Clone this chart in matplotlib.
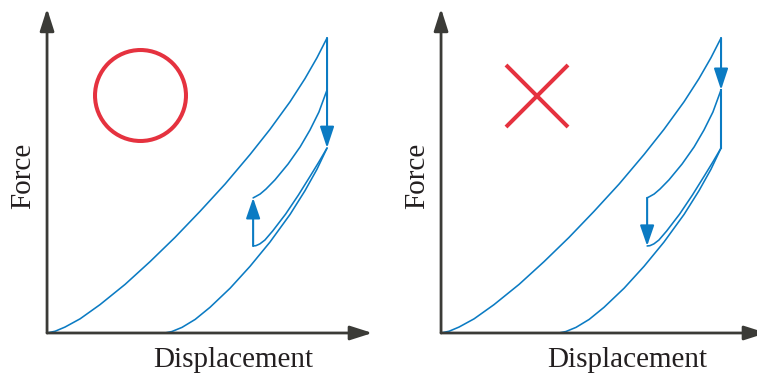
import matplotlib
matplotlib.use("Agg")
import matplotlib.pyplot as plt

# ── Curve data (displacement, force), normalised so the peak load is (1, 1)
load_x = [0, 0.029, 0.064, 0.118, 0.189, 0.279, 0.368, 0.457, 0.546, 0.636,
          0.725, 0.796, 0.868, 0.921, 0.964, 1.0]
load_y = [0, 0.006, 0.020, 0.048, 0.096, 0.165, 0.242, 0.324, 0.412, 0.505,
          0.605, 0.690, 0.784, 0.862, 0.933, 1.0]

unload_x = [0.421, 0.446, 0.482, 0.529, 0.582, 0.654, 0.725, 0.796, 0.868, 0.921, 0.964, 1.0]
unload_y = [0, 0.005, 0.019, 0.046, 0.087, 0.152, 0.226, 0.308, 0.402, 0.482, 0.555, 0.627]

lower_x = [0.736, 0.746, 0.760, 0.778, 0.806, 0.852, 0.898, 0.940, 0.971, 1.0]
lower_y = [0.295, 0.296, 0.302, 0.315, 0.346, 0.403, 0.468, 0.532, 0.580, 0.627]

upper_x = [0.736, 0.746, 0.761, 0.782, 0.814, 0.861, 0.904, 0.939, 0.971, 1.0]
upper_y = [0.458, 0.463, 0.471, 0.488, 0.519, 0.573, 0.631, 0.688, 0.749, 0.824]

# step positions
peak_f, upper_f, lower_f = 1.0, 0.824, 0.627
hook_d, hook_hi, hook_lo = 0.736, 0.458, 0.295

# markers for right / wrong
mark_left = (0.332, 0.807)
mark_right = (0.343, 0.803)

BLUE = "#0b7bc3"
RED = "#e5323f"
AXC = "#3b3b37"
TXT = "#231f20"
FONT = "Liberation Serif"


def arrow(ax, start, end, color, lw, hl, hw):
    ax.annotate("", xy=end, xytext=start, annotation_clip=False,
                arrowprops=dict(arrowstyle=f"-|>,head_length={hl},head_width={hw}",
                                color=color, lw=lw, shrinkA=0, shrinkB=0,
                                mutation_scale=10))


def base_panel(ax):
    ax.set_xlim(-0.168, ax.get_position().width * 757 / 280 - 0.168)
    ax.set_ylim(-0.1458, 1.1288)
    ax.axis("off")
    # axes arrows
    arrow(ax, (0, 0), (0, 1.10), AXC, 2.0, 1.35, 0.43)
    arrow(ax, (0, 0), (1.162, 0), AXC, 2.0, 1.35, 0.43)
    ax.text(0.664, -0.115, "Displacement", ha="center", va="baseline",
            fontsize=21, family=FONT, color=TXT)
    ax.text(-0.086, 0.532, "Force", ha="center", va="center", rotation=90,
            fontsize=21, family=FONT, color=TXT)
    # common curves
    for xs, ys in [(load_x, load_y), (unload_x, unload_y),
                   (lower_x, lower_y), (upper_x, upper_y)]:
        ax.plot(xs, ys, color=BLUE, lw=1.15, solid_capstyle="round",
                solid_joinstyle="round", clip_on=False)


fig = plt.figure(figsize=(7.57, 3.76), dpi=100)
ax1 = fig.add_axes([0, 0, 394 / 757, 1])
ax2 = fig.add_axes([394 / 757, 0, 363 / 757, 1])
base_panel(ax1)
base_panel(ax2)

# left: correct sequence
arrow(ax1, (1.0, peak_f), (1.0, lower_f), BLUE, 1.5, 1.3, 0.43)
arrow(ax1, (hook_d, hook_lo), (hook_d, hook_hi), BLUE, 1.5, 1.25, 0.43)
ax1.plot(*mark_left, marker="o", ms=65.5, mfc="none", mec=RED, mew=2.9)

# right: wrong sequence
arrow(ax2, (1.0, peak_f), (1.0, upper_f), BLUE, 1.5, 1.3, 0.43)
ax2.plot([1.0, 1.0], [upper_f, lower_f], color=BLUE, lw=1.5)
arrow(ax2, (hook_d, hook_hi), (hook_d, hook_lo), BLUE, 1.5, 1.25, 0.43)
ax2.plot(*mark_right, marker="x", ms=45, mec=RED, mew=2.9)

fig.savefig("out.png", dpi=100)
